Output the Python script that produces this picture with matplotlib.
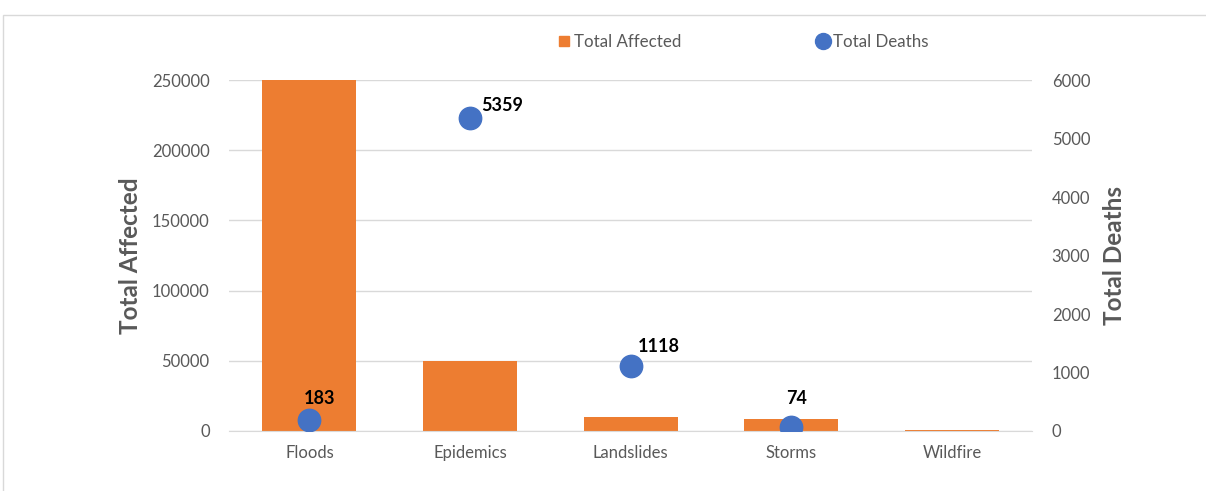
import matplotlib.pyplot as plt
from matplotlib.lines import Line2D
from matplotlib.patches import Rectangle

categories = ["Floods", "Epidemics", "Landslides", "Storms", "Wildfire"]
total_affected = [251000, 50000, 10000, 8500, 800]
total_deaths = [183, 5359, 1118, 74, None]
# label offsets from the dot (points): x of text centre, y of baseline
label_dx = [7, 23, 20, 4]
label_dy = [12, 4.5, 9.5, 16]

orange = "#ED7D31"
blue = "#4472C4"
grey = "#595959"

plt.rcParams['font.family'] = ['Lato', 'DejaVu Sans']

fig = plt.figure(figsize=(12.06, 4.91), dpi=100)
ax = fig.add_axes([0.190, 0.1222, 0.666, 0.7148])
ax2 = ax.twinx()

x = list(range(len(categories)))
ax.bar(x, total_affected, width=0.585, color=orange, zorder=2)
ax.set_ylim(0, 250000)
ax.set_xlim(-0.5, len(categories) - 0.5)
ax.set_yticks(range(0, 250001, 50000))
ax.grid(axis='y', color="#D9D9D9", linewidth=1, zorder=0)
ax.set_axisbelow(True)

dx = [i for i, v in zip(x, total_deaths) if v is not None]
dy = [v for v in total_deaths if v is not None]
ax2.scatter(dx, dy, s=260, color=blue, zorder=3)
for xi, yi, ox, oy in zip(dx, dy, label_dx, label_dy):
    ax2.annotate(str(yi), (xi, yi), xytext=(ox, oy), textcoords='offset points',
                 fontsize=13, fontweight='bold', color='black', ha='center', va='baseline')
ax2.set_ylim(0, 6000)
ax2.set_yticks(range(0, 6001, 1000))

for a in (ax, ax2):
    for s in a.spines.values():
        s.set_visible(False)
    a.tick_params(length=0, labelsize=12, colors=grey)
ax.spines['bottom'].set_visible(True)
ax.spines['bottom'].set_color("#D9D9D9")
ax.tick_params(axis='x', pad=10)
ax.tick_params(axis='y', pad=14)
ax2.tick_params(axis='y', pad=14)
ax.set_xticks(x)
ax.set_xticklabels(categories)

ax.set_ylabel("Total Affected", fontsize=17.5, fontweight='bold', color=grey, labelpad=7)
ax2.set_ylabel("Total Deaths", fontsize=17.5, fontweight='bold', color=grey, labelpad=9)

handles = [Line2D([], [], marker='s', linestyle='none', color=orange, markersize=7.5),
           Line2D([], [], marker='o', linestyle='none', color=blue, markersize=11.5)]
fig.legend(handles, ["Total Affected", "Total Deaths"], loc='center',
           bbox_to_anchor=(0.616, 0.915), ncol=2, frameon=False, fontsize=12.2,
           handlelength=0.8, handletextpad=0.15, columnspacing=8, labelcolor=grey)

fig.patches.append(Rectangle((3 / 1206, -0.1), 1.2, 1.1 - 15 / 491,
                             transform=fig.transFigure, fill=False,
                             edgecolor="#D9D9D9", linewidth=1))

plt.savefig("out.png", dpi=100)
